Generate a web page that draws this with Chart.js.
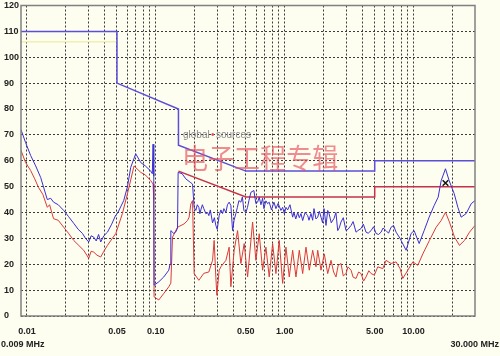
<!DOCTYPE html>
<html>
<head>
<meta charset="utf-8">
<script src="https://cdn.jsdelivr.net/npm/chart.js@4"></script>
<style>
  html, body { margin: 0; padding: 0; background: #fdfdf0; }
  canvas { display: block; }
</style>
</head>
<body>
<canvas id="emiChart" width="500" height="356"></canvas>
<script>
// frequency in MHz, level in dBuV
let peakTrace = [
  [0.009,72],[0.00977,67],[0.0107,62],[0.0117,58],[0.0128,53.5],[0.0144,45],[0.0153,45.5],[0.0161,44],
  [0.0175,43],[0.0193,40.8],[0.021,38.5],[0.0231,35.8],[0.025,33.5],[0.027,31.9],[0.0285,30],[0.0302,28.6],
  [0.0315,31],[0.033,30.5],[0.0345,29],[0.036,31.5],[0.0374,28.6],[0.0395,31],[0.0422,32.4],[0.0455,35.5],
  [0.0489,39],[0.0504,39.6],[0.0564,44.6],[0.0603,50],[0.0639,57.4],[0.0699,62.7],[0.0765,59.3],[0.083,58],
  [0.0915,56],[0.094,55],[0.0953,66.4],[0.0965,54],[0.097,11.9],[0.1055,13.2],[0.1154,15.1],[0.1262,17.7],
  [0.129,20],[0.1309,33],[0.138,31.9],[0.143,32.5],[0.1475,34],[0.1491,55.5],[0.16,55],[0.1711,53],
  [0.1871,51.5],[0.1929,51],[0.1985,42],[0.2046,40.8],[0.21,43],[0.2159,42],[0.22,39.5],[0.2237,41],
  [0.23,43],[0.236,41.5],[0.245,39.5],[0.2522,40],[0.2581,38.8],[0.265,41],[0.2758,36],[0.285,38],
  [0.2926,35],[0.3,33.5],[0.3104,38.8],[0.32,41],[0.3299,39.6],[0.3377,41.5],[0.35,40],[0.36,43],
  [0.3711,44],[0.3826,42.7],[0.3945,33],[0.405,37],[0.4184,39.6],[0.43,42],[0.4415,44.6],[0.4576,44],
  [0.47,46],[0.4829,40.8],[0.5005,40],[0.515,42],[0.5281,44.6],[0.5472,47.8],[0.5772,48.5],[0.5984,43.4],
  [0.6169,44],[0.6348,45.9],[0.655,43],[0.6746,45.5],[0.6905,41.5],[0.715,44.5],[0.7378,43.4],[0.7592,44],
  [0.79,41],[0.8259,44],[0.8558,41.5],[0.89,43.5],[0.9361,40.8],[0.965,42],[0.995,39.5],[1.024,42],
  [1.055,41],[1.1,43],[1.154,38.2],[1.181,40],[1.22,37.5],[1.262,40],[1.3,38],[1.339,39.6],
  [1.38,36.9],[1.44,40],[1.509,38.8],[1.545,37],[1.601,39.6],[1.65,37],[1.689,41.5],[1.75,37.5],
  [1.805,38.2],[1.86,40.5],[1.915,38.2],[1.97,36],[2.021,41.5],[2.094,35],[2.159,40.8],[2.21,39.6],
  [2.3,36],[2.416,37.7],[2.5,40],[2.581,33],[2.65,34],[2.738,36.3],[2.85,38],[2.994,33],
  [3.1,33.5],[3.275,35],[3.4,36.5],[3.581,32.4],[3.7,33],[3.916,33.8],[4.08,35.5],[4.282,32.4],
  [4.45,32],[4.684,33],[4.9,34.5],[5.122,31.9],[5.35,31.5],[5.602,32.4],[5.8,34],[6.125,33],
  [6.4,32],[6.697,34.3],[7.0,35],[7.324,32.4],[7.867,30],[8.01,29.2],[8.76,25.4],[9.581,31.9],
  [10.11,33],[11.06,28],[12.09,33],[13.22,38.2],[14.46,42.7],[15.53,45.9],[16.39,52.3],[17.7,56.9],
  [18.91,52.3],[20.68,47.3],[22.09,42],[23.43,38.2],[25.63,39.6],[28.03,43.4],[30,44.6]
];

let avgTrace = [
  [0.009,64],[0.00977,59.3],[0.0107,56.2],[0.0115,53],[0.0123,49.7],[0.0133,47],[0.0144,42],[0.015,43],
  [0.0161,37.6],[0.0175,37],[0.0193,34.3],[0.021,32],[0.0231,29.2],[0.025,27.5],[0.0276,25.4],[0.0302,22.3],
  [0.0315,25],[0.033,24.7],[0.035,23.5],[0.0374,22.8],[0.0395,25],[0.0422,27.3],[0.046,30],[0.0489,31.8],
  [0.0551,39.6],[0.0603,47.3],[0.0678,58],[0.0765,55.5],[0.083,54.5],[0.0915,52.3],[0.0953,51],[0.0965,45],
  [0.097,7.4],[0.1055,6.2],[0.1154,8.7],[0.1262,11.3],[0.1309,12.7],[0.1349,30.5],[0.1475,34.3],[0.1659,35.6],
  [0.1763,36.9],[0.1815,38.2],[0.1871,43.3],[0.1929,44.6],[0.1985,16.4],[0.2159,13.8],[0.236,16.5],[0.2581,17],
  [0.2758,21.5],[0.2838,29.2],[0.2926,15],[0.2979,8],[0.3104,17.7],[0.32,19],[0.35,21.5],[0.3711,26.6],
  [0.3826,11.3],[0.4059,25.4],[0.4313,33],[0.4576,20.3],[0.4855,28],[0.516,15.1],[0.5642,36.3],[0.5984,21.5],
  [0.6348,31.8],[0.6746,17.7],[0.7156,26.6],[0.7592,15.1],[0.8069,28],[0.8558,16.4],[0.9078,29.2],[0.965,12.6],
  [1.024,26.6],[1.086,15.1],[1.154,25.4],[1.224,15.1],[1.299,25.4],[1.38,16.4],[1.464,26.6],[1.553,17.7],
  [1.651,25.4],[1.751,19],[1.805,25.4],[1.915,17.7],[2.031,24],[2.159,16.4],[2.29,21.5],[2.4,17],
  [2.504,15.1],[2.6,19.5],[2.738,20.3],[2.85,15.5],[2.994,16.4],[3.1,19],[3.275,17.7],[3.4,15],
  [3.581,14.5],[3.75,17],[3.916,16.4],[4.1,13.5],[4.282,15.1],[4.5,17.5],[4.684,16.4],[4.968,15.8],
  [5.28,19],[5.775,18.3],[6.125,21.5],[6.697,20.3],[7.324,20.9],[7.867,18.3],[8.256,14.5],[9.03,17.7],
  [9.876,20.9],[10.8,19.6],[11.81,24],[13.29,29.2],[14.98,34.3],[16.39,36.9],[17.7,40.1],[19.01,36.3],
  [20.79,30.5],[22.73,27.3],[24.86,29.2],[27.19,32.4],[30,35]
];

let qpLimit = [[0.009,110],[0.05,110],[0.05,90],[0.15,80],[0.15,66],[0.5,56],[5,56],[5,60],[30,60]];
let avLimit = [[0.15,56],[0.5,46],[5,46],[5,50],[30,50]];
let paleLimit = [[0.009,106],[0.05,106]];
let marker = [[17.7,51.4]];

let gridFreqs = [0.01,0.02,0.03,0.04,0.05,0.06,0.07,0.08,0.09,
                 0.1,0.2,0.3,0.4,0.5,0.6,0.7,0.8,0.9,
                 1,2,3,4,5,6,7,8,9,10,20];
let xLabelFreqs = [0.01, 0.05, 0.1, 0.5, 1, 5, 10];
let xLabelTexts = ["0.01", "0.05", "0.10", "0.50", "1.00", "5.00", "10.00"];

let tickFont = { family: '"Liberation Sans", Arial, sans-serif', size: 9, weight: 'bold' };

function pts(arr) {
  return arr.map(p => ({ x: p[0], y: p[1] }));
}

let decor = {
  id: 'decor',
  afterDraw(chart) {
    let ctx = chart.ctx;
    let a = chart.chartArea;
    ctx.save();
    // plot frame
    ctx.strokeStyle = '#808080';
    ctx.lineWidth = 1.5;
    ctx.strokeRect(a.left, a.top, a.right - a.left, a.bottom - a.top);
    // range end labels
    ctx.fillStyle = '#222';
    ctx.font = 'bold 9px "Liberation Sans", Arial, sans-serif';
    ctx.textBaseline = 'middle';
    ctx.textAlign = 'left';
    ctx.fillText('0.009 MHz', 1, 345);
    ctx.textAlign = 'right';
    ctx.fillText('30.000 MHz', 499, 345);
    // watermark
    ctx.textAlign = 'left';
    ctx.font = '10px "Liberation Sans", Arial, sans-serif';
    ctx.fillStyle = '#8a8a8a';
    ctx.fillText('global', 183, 135);
    ctx.fillStyle = '#e05050';
    ctx.fillText('•', 211, 135);
    ctx.fillStyle = '#8a8a8a';
    ctx.fillText('sources', 216, 135);
    ctx.font = '28px "Noto Sans CJK SC", sans-serif';
    ctx.fillStyle = 'rgba(232, 80, 90, 0.65)';
    ctx.translate(182, 158);
    ctx.scale(0.93, 1);
    ctx.fillText('电子工程专辑', 0, 0);
    ctx.restore();
  }
};

new Chart("emiChart", {
  type: "line",
  data: {
    datasets: [
      { data: pts(marker), showLine: false, pointStyle: 'crossRot', pointRadius: 4, pointBorderWidth: 1.5, borderColor: '#111', backgroundColor: '#111' },
      { data: pts(peakTrace), borderColor: '#3c2fd4', borderWidth: 1, pointRadius: 0, tension: 0 },
      { data: pts(avgTrace), borderColor: '#dc3a3a', borderWidth: 1, pointRadius: 0, tension: 0 },
      { data: pts(qpLimit), borderColor: '#5a4fd8', borderWidth: 1.5, pointRadius: 0, tension: 0 },
      { data: pts(avLimit), borderColor: '#c8304a', borderWidth: 1.5, pointRadius: 0, tension: 0 },
      { data: pts(paleLimit), borderColor: '#f2f0b0', borderWidth: 1.5, pointRadius: 0, tension: 0 }
    ]
  },
  options: {
    responsive: false,
    animation: false,
    layout: { padding: { left: 4, top: 4, right: 25, bottom: 0 } },
    plugins: { legend: { display: false }, tooltip: { enabled: false } },
    scales: {
      x: {
        type: 'logarithmic',
        min: 0.009,
        max: 30,
        afterBuildTicks: s => { s.ticks = gridFreqs.map(v => ({ value: v })); },
        afterFit: s => { s.height = 40; s.paddingLeft = 0; s.paddingRight = 0; },
        grid: { color: '#3a3a3a', drawTicks: false, lineWidth: 1 },
        border: { display: false, dash: [2, 2] },
        ticks: {
          autoSkip: false,
          maxRotation: 0,
          padding: 10,
          color: '#222',
          font: tickFont,
          callback: function (v) {
            let i = xLabelFreqs.findIndex(f => Math.abs(f - v) < f * 0.01);
            return i >= 0 ? xLabelTexts[i] : '';
          }
        }
      },
      y: {
        min: 0,
        max: 120,
        afterFit: s => { s.width = 17; s.paddingTop = 0; s.paddingBottom = 0; },
        grid: { color: '#3a3a3a', drawTicks: false, lineWidth: 1 },
        border: { display: false, dash: [2, 2] },
        ticks: { stepSize: 10, crossAlign: 'far', padding: 0, color: '#222', font: tickFont }
      }
    }
  },
  plugins: [decor]
});
</script>
</body>
</html>
